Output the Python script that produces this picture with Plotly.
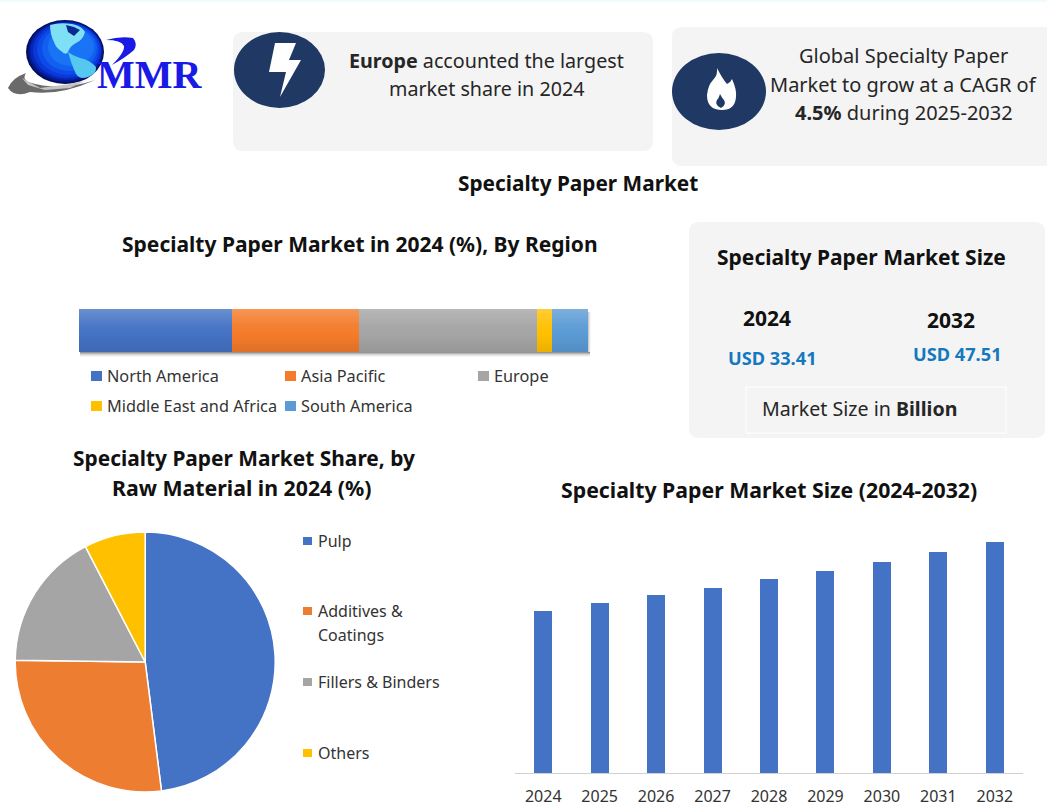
import plotly.graph_objects as go

W, H = 1047, 807
FONT = "Noto Sans"

# ---- data ----
regions = ["North America", "Asia Pacific", "Europe", "Middle East and Africa", "South America"]
region_share = [30, 25, 35, 3, 7]
region_colors = ["#4472C4", "#F47B2A", "#A5A5A5", "#FFC000", "#5B9BD5"]

materials = ["Pulp", "Additives & Coatings", "Fillers & Binders", "Others"]
material_share = [48, 27.2, 17.2, 7.6]
material_colors = ["#4472C4", "#ED7D31", "#A5A5A5", "#FFC000"]

years = ["2024", "2025", "2026", "2027", "2028", "2029", "2030", "2031", "2032"]
market_size = [33.41, 35.0, 36.6, 38.05, 39.9, 41.65, 43.4, 45.45, 47.51]


def fx(x):
    return x / W


def fy(y):
    return 1 - y / H


def poly(points, color, layer="above", curved=False):
    """Decorative outline given in page pixels."""
    if curved:
        d = "M%.5f,%.5f" % (fx(points[0][0]), fy(points[0][1]))
        for i in range(1, len(points) - 1, 2):
            d += " Q%.5f,%.5f %.5f,%.5f" % (fx(points[i][0]), fy(points[i][1]), fx(points[i + 1][0]), fy(points[i + 1][1]))
        d += " Z"
    else:
        d = "M" + " L".join("%.5f,%.5f" % (fx(a), fy(b)) for a, b in points) + " Z"
    return dict(type="path", xref="paper", yref="paper", path=d, fillcolor=color, line=dict(width=0), layer=layer)


def rrect(x0, y0, x1, y1, r, color, layer="below"):
    return poly([(x0 + r, y0), ((x0 + x1) / 2, y0), (x1 - r, y0), (x1, y0), (x1, y0 + r),
                 (x1, (y0 + y1) / 2), (x1, y1 - r), (x1, y1), (x1 - r, y1),
                 ((x0 + x1) / 2, y1), (x0 + r, y1), (x0, y1), (x0, y1 - r),
                 (x0, (y0 + y1) / 2), (x0, y0 + r), (x0, y0), (x0 + r, y0)], color, layer, curved=True)


def rect(x0, y0, x1, y1, color, layer="above", line=None, opacity=1):
    return dict(type="rect", xref="paper", yref="paper", x0=fx(x0), x1=fx(x1), y0=fy(y1), y1=fy(y0),
                fillcolor=color, line=dict(width=0) if line is None else line, layer=layer, opacity=opacity)


def oval(x0, y0, x1, y1, color, layer="above"):
    return dict(type="circle", xref="paper", yref="paper", x0=fx(x0), x1=fx(x1), y0=fy(y1), y1=fy(y0),
                fillcolor=color, line=dict(width=0), layer=layer)


def text(x, y, s, size=18, color="#262626", anchor="center", family=FONT):
    return dict(xref="paper", yref="paper", x=fx(x), y=fy(y), text=s, showarrow=False, xanchor=anchor,
                yanchor="middle", align=anchor, font=dict(size=size, color=color, family=family),
                borderpad=0, borderwidth=0)


fig = go.Figure()

# stacked region bar
for name, val, col in zip(regions, region_share, region_colors):
    fig.add_trace(go.Bar(y=["share"], x=[val], orientation="h", name=name, marker=dict(color=col, line=dict(width=0)),
                         xaxis="x", yaxis="y", showlegend=False, width=1))

# raw material pie
fig.add_trace(go.Pie(labels=materials, values=material_share, sort=False, direction="clockwise", rotation=0,
                     marker=dict(colors=material_colors, line=dict(color="white", width=1.5)),
                     textinfo="none", showlegend=False,
                     domain=dict(x=[fx(15.2), fx(275.2)], y=[fy(792), fy(532)])))

# market size columns
fig.add_trace(go.Bar(x=years, y=market_size, marker=dict(color="#4472C4", line=dict(width=0)),
                     xaxis="x2", yaxis="y2", showlegend=False))

shapes = []
ann = []

# top edge tint
shapes.append(rect(0, 0, W, 2, "#EFFCFE", layer="below"))

# cards
shapes.append(rrect(233, 32, 653, 151, 10, "#F4F4F4"))
shapes.append(rrect(672, 27, 1060, 166, 10, "#F4F4F4"))
shapes.append(rrect(689, 222, 1045, 438, 10, "#F4F4F4"))
shapes.append(rect(746, 387, 1006, 433, "#F4F4F4", layer="below", line=dict(color="#FFFFFF", width=1)))

# icons
shapes.append(oval(234, 32, 325, 108, "#1F3864"))
shapes.append(poly([(275, 43), (296, 43), (289, 60), (301, 60), (280, 97), (286, 72), (269, 72)], "#FFFFFF"))
shapes.append(oval(672, 53, 766, 130, "#1F3864"))
shapes.append(poly([(717, 68), (722, 78), (727, 84), (731, 82), (732, 79), (737, 90), (736, 97), (735, 110), (722, 110),
                    (707, 110), (707, 95), (708, 85), (713, 80), (718, 75), (717, 68)], "#FFFFFF", curved=True))
shapes.append(poly([(720, 94), (722, 98), (724, 100), (727, 105), (721, 108), (714, 105), (717, 100), (719, 98), (720, 94)],
                   "#1F3864", curved=True))

# logo: swoosh behind, globe with stepped shading, continents, mark
shapes.append(poly([(8, 88), (12, 78), (26, 73), (22, 78), (28, 82), (60, 92), (95, 80), (60, 96), (30, 92), (15, 98), (8, 88)],
                   "#6A6A6A", curved=True))
for (x0, y0, x1, y1, c) in [(26, 20, 104, 84, "#020E5E"), (28, 21, 103, 82, "#04188C"), (30, 22, 102, 80, "#0626B4"),
                            (33, 23, 101, 78, "#0A38D8"), (37, 24, 99, 75, "#0D4AE8"), (42, 26, 97, 71, "#1260F0"),
                            (48, 28, 94, 66, "#1874F4")]:
    shapes.append(oval(x0, y0, x1, y1, c))
shapes.append(poly([(50, 25), (60, 22), (72, 24), (82, 26), (85, 32), (83, 40), (76, 43), (70, 46), (68, 52), (66, 56), (61, 51),
                    (56, 48), (54, 42), (50, 34), (50, 25)], "#7FE0F5", curved=True))
shapes.append(poly([(68, 52), (73, 56), (80, 58), (90, 60), (96, 67), (97, 74), (88, 77), (80, 80), (76, 74), (72, 66), (68, 52)],
                   "#55C8F0", curved=True))
shapes.append(poly([(66, 25), (74, 27), (80, 30), (74, 36), (68, 32)], "#0A2A90"))
shapes.append(poly([(22, 78), (40, 88), (70, 84), (85, 81), (95, 76), (70, 88), (45, 90), (28, 85)], "#C4C4C4"))
shapes.append(poly([(106, 40), (120, 36), (133, 38), (138, 44), (134, 50), (125, 58), (112, 65), (125, 52), (124, 46), (121, 40), (106, 40)],
                   "#1A1AE6", curved=True))
ann.append(text(97, 75, "<b>MMR</b>", size=40, color="#1A1AE6", anchor="left", family="Liberation Serif"))

# card texts
ann.append(text(486, 60, "<b>Europe</b> accounted the largest", 19.7))
ann.append(text(486, 88.5, "market share in 2024", 19.7))
ann.append(text(903.5, 56, "Global Specialty Paper", 20))
ann.append(text(903.5, 84.5, "Market to grow at a CAGR of", 20))
ann.append(text(903.5, 112.5, "<b>4.5%</b> during 2025-2032", 20))

# titles
ann.append(text(578, 183, "<b>Specialty Paper Market</b>", 20.8, "#111111"))
ann.append(text(360, 244, "<b>Specialty Paper Market in 2024 (%), By Region</b>", 21, "#111111"))
ann.append(text(244, 457.5, "<b>Specialty Paper Market Share, by</b>", 20.9, "#111111"))
ann.append(text(241.5, 487.5, "<b>Raw Material in 2024 (%)</b>", 21.3, "#111111"))
ann.append(text(769, 489.5, "<b>Specialty Paper Market Size (2024-2032)</b>", 21.25, "#111111"))

# size card
ann.append(text(861, 257, "<b>Specialty Paper Market Size</b>", 21, "#111111"))
ann.append(text(767, 318, "<b>2024</b>", 21, "#111111"))
ann.append(text(951, 320, "<b>2032</b>", 21, "#111111"))
ann.append(text(772, 358, "<b>USD 33.41</b>", 18.2, "#1478C0"))
ann.append(text(957, 354, "<b>USD 47.51</b>", 18.2, "#1478C0"))
ann.append(text(859.5, 408.5, "Market Size in <b>Billion</b>", 19.6))

# bar shadow and sheen
for i, op in enumerate([0.75, 0.5, 0.3, 0.15, 0.07]):
    shapes.append(rect(80, 352 + i, 590, 353 + i, "#707070", layer="below", opacity=op))
for i, op in enumerate([0.4, 0.2, 0.08]):
    shapes.append(rect(588 + i, 312, 589 + i, 353, "#808080", layer="below", opacity=op))
sheen = [0.2, 0.18, 0.16, 0.14, 0.12, 0.1, 0.08, 0.06, 0.04, 0.03, 0.02, 0.01]
for i, op in enumerate(sheen):
    shapes.append(rect(79, 309 + 2 * i, 588, 311 + 2 * i, "#FFFFFF", opacity=op))
dark = [0.01, 0.02, 0.03, 0.04, 0.05, 0.06, 0.07, 0.08]
for i, op in enumerate(dark):
    shapes.append(rect(79, 336 + 2 * i, 588, 338 + 2 * i, "#000000", opacity=op))

# region legend
leg_pos = [(91, 376), (285, 376), (478, 376), (91, 406), (285, 406)]
for name, col, (lx, ly) in zip(regions, region_colors, leg_pos):
    shapes.append(rect(lx, ly - 5, lx + 11, ly + 5, col))
    ann.append(text(lx + 16, ly, name, 16.3, "#333333", anchor="left"))

# material legend
mat_pos = [(541, [541]), (611, [611, 635]), (682, [682]), (753, [753])]
mat_lines = [["Pulp"], ["Additives &", "Coatings"], ["Fillers & Binders"], ["Others"]]
for col, (my, tys), lines in zip(material_colors, mat_pos, mat_lines):
    shapes.append(rect(303, my - 4, 312, my + 4, col))
    for ty, line in zip(tys, lines):
        ann.append(text(317.5, ty, line, 16, "#333333", anchor="left"))

fig.update_layout(
    width=W, height=H, margin=dict(l=0, r=0, t=0, b=0, pad=0), autosize=False,
    paper_bgcolor="#FFFFFF", plot_bgcolor="rgba(0,0,0,0)",
    barmode="stack", bargap=0.68,
    font=dict(family=FONT, color="#333333"),
    shapes=shapes, annotations=ann,
    xaxis=dict(domain=[fx(79), fx(588)], range=[0, 100], visible=False, fixedrange=True, automargin=False),
    yaxis=dict(domain=[fy(352), fy(309)], visible=False, fixedrange=True, automargin=False),
    xaxis2=dict(domain=[fx(515), fx(1023)], anchor="y2", type="category", showgrid=False, ticks="",
                showline=True, linecolor="#D0D0D0", linewidth=1, automargin=False,
                tickfont=dict(size=16, color="#333333", family=FONT), ticklabelstandoff=9),
    yaxis2=dict(domain=[fy(773), fy(520)], range=[0, 52.04], visible=False, showgrid=False, automargin=False),
)

fig.write_html("out.html", post_script="document.body.style.margin='0';", config=dict(displayModeBar=False))
